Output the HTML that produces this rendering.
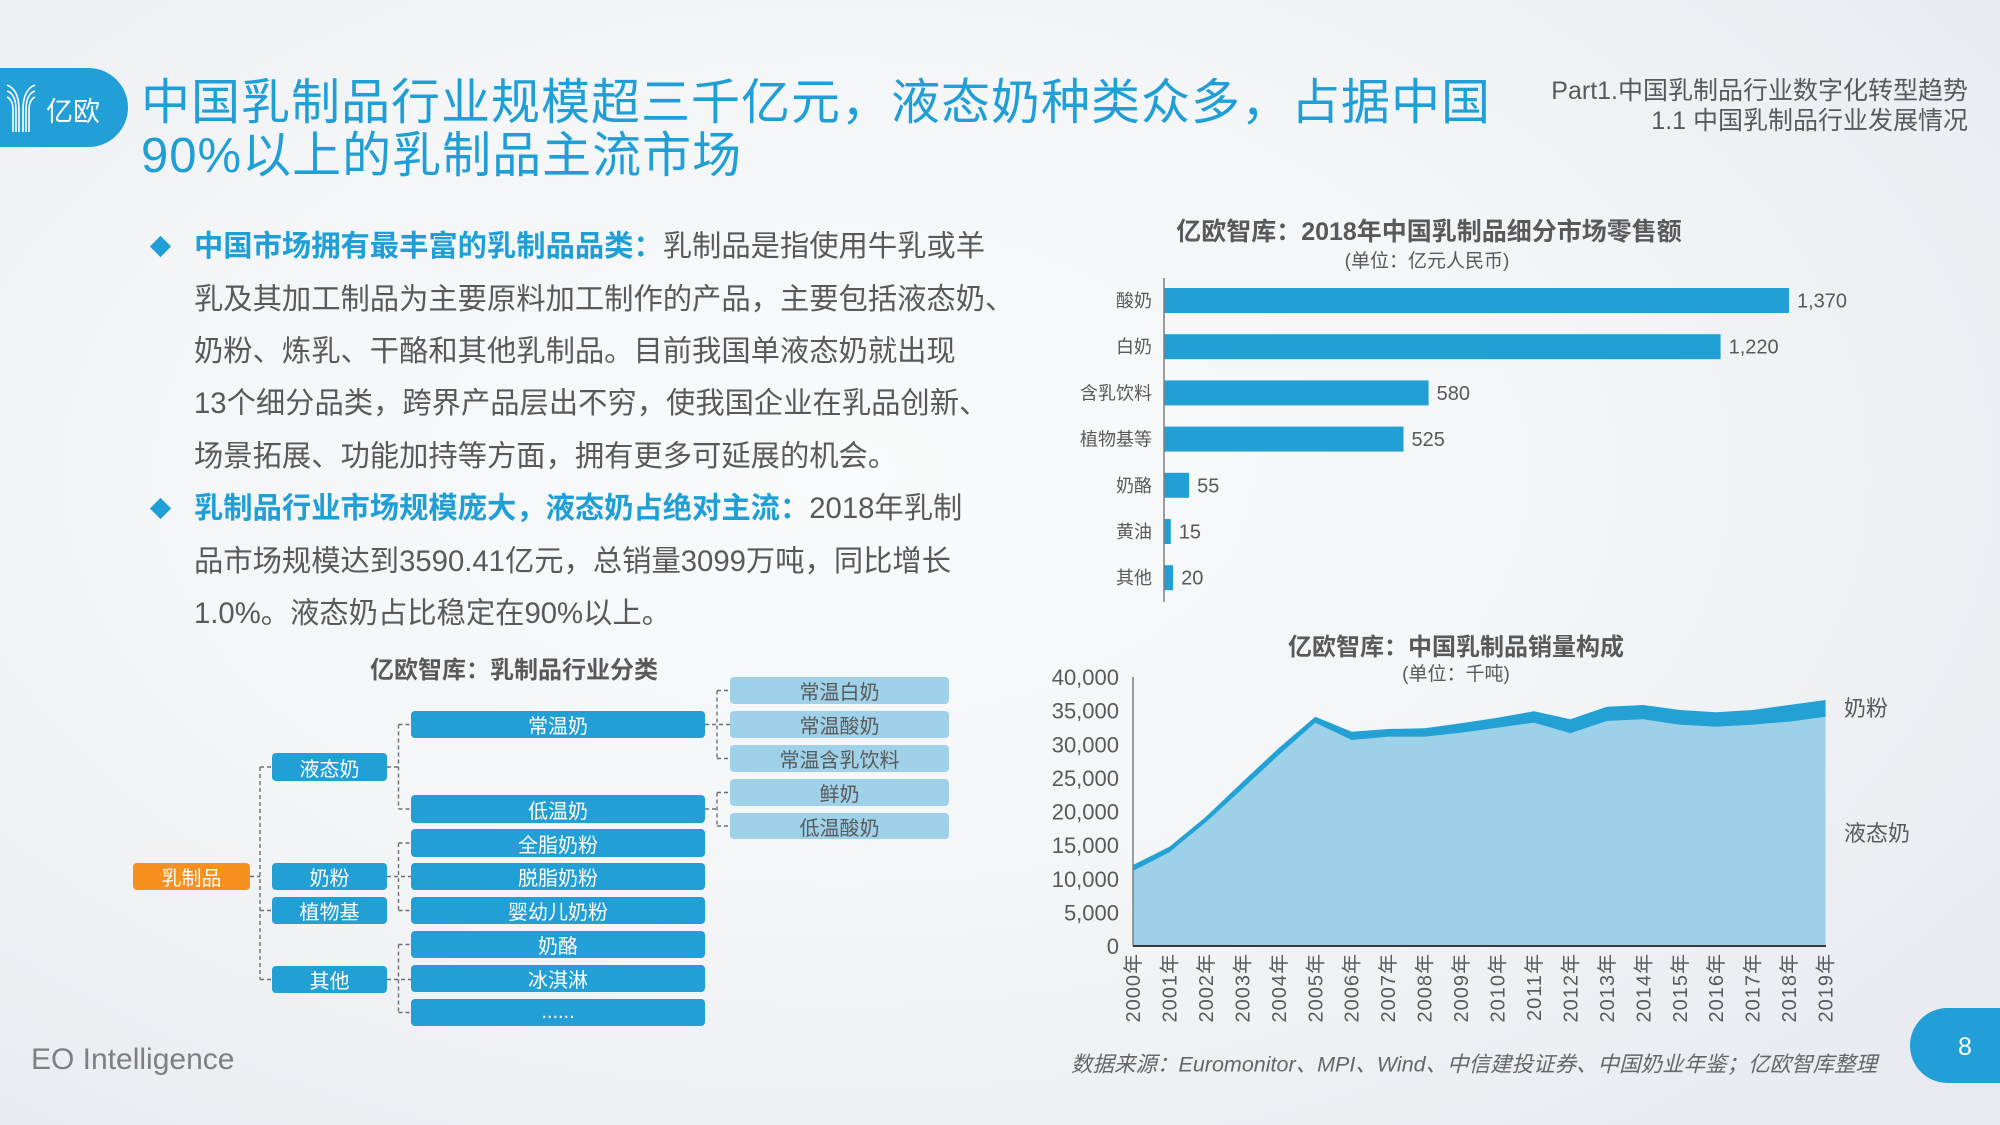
<!DOCTYPE html>
<html><head><meta charset="utf-8">
<style>
*{margin:0;padding:0;box-sizing:border-box}
html,body{width:2000px;height:1125px;overflow:hidden}
body{position:relative;font-family:"Liberation Sans","Noto Sans CJK SC",sans-serif;color:#595959;
background:radial-gradient(ellipse 75% 80% at 42% 42%,#f9fafb 0%,#f3f5f7 50%,#e7eaef 100%);}
.abs{position:absolute;white-space:nowrap}
.title{left:141px;font-size:49px;letter-spacing:1px;color:#209fd7;line-height:60px}
.hdr{right:32px;font-size:25px;line-height:30px;text-align:right;color:#595959}
.p{left:194px;font-size:29.3px;line-height:52px;color:#595959}
.p b{color:#1f9fd6;font-weight:bold}
.dia{position:absolute;width:15px;height:15px;background:#1f9fd6;transform:rotate(45deg)}
.bx{position:absolute;display:flex;align-items:center;justify-content:center;border-radius:4px;font-size:20px;color:#fff;background:#229fd5;white-space:nowrap}
.lt{background:#9fd2e9;color:#595959}
.or{background:#f7901e}
</style></head><body>

<!-- logo -->
<div class="abs" style="left:0;top:68px;width:128px;height:79px;background:#229fd6;border-radius:0 40px 40px 0"></div>
<svg class="abs" style="left:0;top:0" width="140" height="160">
<g fill="none" stroke="#fff" stroke-width="1.6">
<path d="M7,85 C15,88 19,96 19,110 L19,132"/>
<path d="M7,91 C13,93 16,99 16,110 L16,132"/>
<path d="M7,97 C11,99 13,103 13,110 L13,132"/>
<path d="M35,85 C27,88 23,96 23,110 L23,132"/>
<path d="M35,91 C29,93 26,99 26,110 L26,132"/>
<path d="M35,97 C31,99 29,103 29,110 L29,132"/>
</g>
<text x="46" y="121" font-size="27" fill="#fff" style="font-family:'Liberation Sans','Noto Sans CJK SC',sans-serif">亿欧</text>
</svg>

<!-- title -->
<div class="abs title" style="top:73px">中国乳制品行业规模超三千亿元，液态奶种类众多，占据中国</div>
<div class="abs title" style="top:126px">90%以上的乳制品主流市场</div>

<div class="abs hdr" style="top:76px">Part1.中国乳制品行业数字化转型趋势</div>
<div class="abs hdr" style="top:106px">1.1 中国乳制品行业发展情况</div>

<!-- bullets -->
<div class="dia" style="left:153px;top:239px"></div>
<div class="dia" style="left:153px;top:501px"></div>
<div class="abs p" style="top:221px"><b>中国市场拥有最丰富的乳制品品类：</b>乳制品是指使用牛乳或羊</div>
<div class="abs p" style="top:273.5px">乳及其加工制品为主要原料加工制作的产品，主要包括液态奶、</div>
<div class="abs p" style="top:326px">奶粉、炼乳、干酪和其他乳制品。目前我国单液态奶就出现</div>
<div class="abs p" style="top:378px">13个细分品类，跨界产品层出不穷，使我国企业在乳品创新、</div>
<div class="abs p" style="top:431px">场景拓展、功能加持等方面，拥有更多可延展的机会。</div>
<div class="abs p" style="top:483px"><b>乳制品行业市场规模庞大，液态奶占绝对主流：</b>2018年乳制</div>
<div class="abs p" style="top:536px">品市场规模达到3590.41亿元，总销量3099万吨，同比增长</div>
<div class="abs p" style="top:588px">1.0%。液态奶占比稳定在90%以上。</div>

<!-- tree boxes -->
<div class="bx or" style="left:133px;top:863px;width:117px;height:27px">乳制品</div>
<div class="bx" style="left:272px;top:753px;width:115px;height:28px">液态奶</div>
<div class="bx" style="left:272px;top:863px;width:115px;height:27px">奶粉</div>
<div class="bx" style="left:272px;top:897px;width:115px;height:27px">植物基</div>
<div class="bx" style="left:272px;top:966px;width:115px;height:27px">其他</div>

<div class="bx" style="left:411px;top:711px;width:294px;height:27px">常温奶</div>
<div class="bx" style="left:411px;top:795px;width:294px;height:28px">低温奶</div>
<div class="bx" style="left:411px;top:829px;width:294px;height:28px">全脂奶粉</div>
<div class="bx" style="left:411px;top:863px;width:294px;height:27px">脱脂奶粉</div>
<div class="bx" style="left:411px;top:897px;width:294px;height:27px">婴幼儿奶粉</div>
<div class="bx" style="left:411px;top:931px;width:294px;height:27px">奶酪</div>
<div class="bx" style="left:411px;top:965px;width:294px;height:27px">冰淇淋</div>
<div class="bx" style="left:411px;top:999px;width:294px;height:27px">......</div>

<div class="bx lt" style="left:730px;top:677px;width:219px;height:27px">常温白奶</div>
<div class="bx lt" style="left:730px;top:711px;width:219px;height:27px">常温酸奶</div>
<div class="bx lt" style="left:730px;top:745px;width:219px;height:27px">常温含乳饮料</div>
<div class="bx lt" style="left:730px;top:779px;width:219px;height:27px">鲜奶</div>
<div class="bx lt" style="left:730px;top:813px;width:219px;height:26px">低温酸奶</div>

<svg class="abs" style="left:0;top:0" width="2000" height="1125">
<g style="font-family:'Liberation Sans','Noto Sans CJK SC',sans-serif">

<!-- tree title & connectors -->
<text x="514" y="678" font-size="24" font-weight="bold" fill="#595959" text-anchor="middle">亿欧智库：乳制品行业分类</text>
<g fill="none" stroke="#6f6f6f" stroke-width="1.4" stroke-dasharray="4 3">
<path d="M250,876.5 H260 M260,767 V979.5 M260,767 H272 M260,910.5 H272 M260,979.5 H272"/>
<path d="M387,767 H398.5 M398.5,724.5 V809 M398.5,724.5 H411 M398.5,809 H411"/>
<path d="M387,876.5 H411 M398.5,843 V910.5 M398.5,843 H411 M398.5,910.5 H411"/>
<path d="M387,979.5 H411 M398.5,944.5 V1012.5 M398.5,944.5 H411 M398.5,1012.5 H411"/>
<path d="M705,724.5 H730 M717,690.5 V758.5 M717,690.5 H730 M717,758.5 H730"/>
<path d="M705,809 H717 M717,792.5 V826 M717,792.5 H730 M717,826 H730"/>
</g>

<!-- bar chart -->
<text x="1429" y="240" font-size="25" font-weight="bold" fill="#595959" text-anchor="middle">亿欧智库：2018年中国乳制品细分市场零售额</text>
<text x="1427" y="267" font-size="19" fill="#595959" text-anchor="middle">(单位：亿元人民币)</text>
<g fill="#22a0d5">
<rect x="1164" y="288" width="625" height="25"/>
<rect x="1164" y="334.2" width="556.6" height="25"/>
<rect x="1164" y="380.4" width="264.6" height="25"/>
<rect x="1164" y="426.6" width="239.5" height="25"/>
<rect x="1164" y="472.8" width="25.1" height="25"/>
<rect x="1164" y="519" width="6.8" height="25"/>
<rect x="1164" y="565.2" width="9.1" height="25"/>
</g>
<line x1="1164" y1="278" x2="1164" y2="602" stroke="#7f7f7f" stroke-width="1.5"/>
<g font-size="18" fill="#595959" text-anchor="end">
<text x="1152" y="307">酸奶</text>
<text x="1152" y="353.2">白奶</text>
<text x="1152" y="399.4">含乳饮料</text>
<text x="1152" y="445.6">植物基等</text>
<text x="1152" y="491.8">奶酪</text>
<text x="1152" y="538">黄油</text>
<text x="1152" y="584.2">其他</text>
</g>
<g font-size="20" fill="#595959">
<text x="1797" y="307.5">1,370</text>
<text x="1728.6" y="353.7">1,220</text>
<text x="1436.6" y="399.9">580</text>
<text x="1411.5" y="446.1">525</text>
<text x="1197.1" y="492.3">55</text>
<text x="1178.8" y="538.5">15</text>
<text x="1181.1" y="584.7">20</text>
</g>

<!-- area chart -->
<text x="1456" y="655" font-size="24" font-weight="bold" fill="#595959" text-anchor="middle">亿欧智库：中国乳制品销量构成</text>
<text x="1456" y="680" font-size="19" fill="#595959" text-anchor="middle">(单位：千吨)</text>

<polygon fill="#9dd1e8" points="1133,871 1169.45,852.3 1205.9,822.3 1242.35,789 1278.8,755 1315.25,722.7 1351.7,740 1388.15,736.7 1424.6,736.7 1461.05,732.7 1497.5,727.7 1533.95,722.7 1570.4,733.3 1606.85,721 1643.3,719.3 1679.75,724.7 1716.2,726.7 1752.65,724.7 1789.1,721.7 1825.55,716.7 1825.55,946 1133,946"/>
<polygon fill="#23a0d4" points="1133,865 1169.45,846.7 1205.9,816.7 1242.35,782 1278.8,748 1315.25,716.7 1351.7,731.7 1388.15,729 1424.6,728.3 1461.05,723.3 1497.5,717.7 1533.95,711.3 1570.4,719.3 1606.85,706.7 1643.3,705 1679.75,710 1716.2,712.3 1752.65,710 1789.1,705 1825.55,700 1825.55,716.7 1789.1,721.7 1752.65,724.7 1716.2,726.7 1679.75,724.7 1643.3,719.3 1606.85,721 1570.4,733.3 1533.95,722.7 1497.5,727.7 1461.05,732.7 1424.6,736.7 1388.15,736.7 1351.7,740 1315.25,722.7 1278.8,755 1242.35,789 1205.9,822.3 1169.45,852.3 1133,871"/>
<line x1="1133" y1="677" x2="1133" y2="946" stroke="#7f7f7f" stroke-width="1.5"/>
<line x1="1133" y1="946" x2="1826" y2="946" stroke="#3a3a3a" stroke-width="2"/>

<g font-size="22" fill="#595959" text-anchor="end">
<text x="1119" y="954">0</text>
<text x="1119" y="920.4">5,000</text>
<text x="1119" y="886.8">10,000</text>
<text x="1119" y="853.1">15,000</text>
<text x="1119" y="819.5">20,000</text>
<text x="1119" y="785.9">25,000</text>
<text x="1119" y="752.3">30,000</text>
<text x="1119" y="718.6">35,000</text>
<text x="1119" y="685">40,000</text>
</g>
<g font-size="20" fill="#595959" text-anchor="end" letter-spacing="1">
<text transform="translate(1140,953) rotate(-90)">2000年</text>
<text transform="translate(1176.45,953) rotate(-90)">2001年</text>
<text transform="translate(1212.9,953) rotate(-90)">2002年</text>
<text transform="translate(1249.35,953) rotate(-90)">2003年</text>
<text transform="translate(1285.8,953) rotate(-90)">2004年</text>
<text transform="translate(1322.25,953) rotate(-90)">2005年</text>
<text transform="translate(1358.7,953) rotate(-90)">2006年</text>
<text transform="translate(1395.15,953) rotate(-90)">2007年</text>
<text transform="translate(1431.6,953) rotate(-90)">2008年</text>
<text transform="translate(1468.05,953) rotate(-90)">2009年</text>
<text transform="translate(1504.5,953) rotate(-90)">2010年</text>
<text transform="translate(1540.95,953) rotate(-90)">2011年</text>
<text transform="translate(1577.4,953) rotate(-90)">2012年</text>
<text transform="translate(1613.85,953) rotate(-90)">2013年</text>
<text transform="translate(1650.3,953) rotate(-90)">2014年</text>
<text transform="translate(1686.75,953) rotate(-90)">2015年</text>
<text transform="translate(1723.2,953) rotate(-90)">2016年</text>
<text transform="translate(1759.65,953) rotate(-90)">2017年</text>
<text transform="translate(1796.1,953) rotate(-90)">2018年</text>
<text transform="translate(1832.55,953) rotate(-90)">2019年</text>
</g>
<text x="1844" y="716" font-size="22" fill="#595959">奶粉</text>
<text x="1844" y="841" font-size="22" fill="#595959">液态奶</text>

<!-- footer -->
<text x="31" y="1069" font-size="30" fill="#7f7f7f">EO Intelligence</text>
<text x="1071" y="1071.5" font-size="21.5" fill="#666" font-style="italic">数据来源：Euromonitor、MPI、Wind、中信建投证券、中国奶业年鉴；亿欧智库整理</text>
</g>
</svg>

<div class="abs" style="left:1910px;top:1008px;width:90px;height:75px;background:#229fd6;border-radius:38px 0 0 38px"></div>
<div class="abs" style="left:1945px;top:1030px;width:40px;height:34px;line-height:34px;text-align:center;font-size:25px;color:#fff">8</div>

</body></html>
